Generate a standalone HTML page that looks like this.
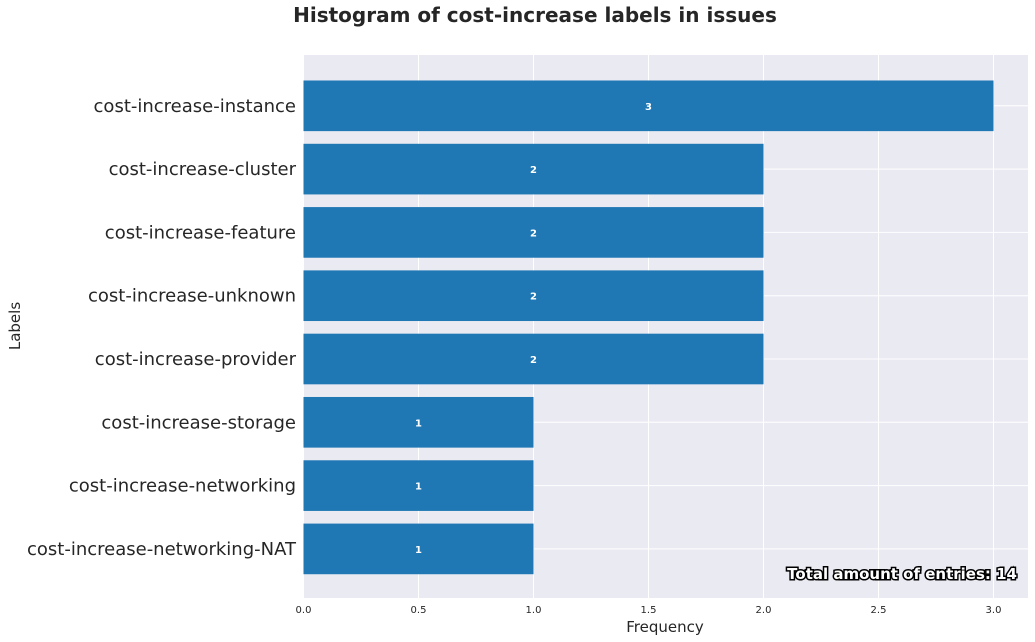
<!DOCTYPE html>
<html><head><meta charset="utf-8"><style>
body{margin:0;background:#fff;}
svg{display:block;font-family:"DejaVu Sans","Liberation Sans",sans-serif;}
</style></head><body>
<svg id="chart" width="1035" height="642">
<text x="535" y="22" text-anchor="middle" font-size="20" font-weight="bold" fill="#262626">Histogram of cost-increase labels in issues</text>
<rect x="304" y="55" width="724" height="543" fill="#eaeaf2"/>
<g id="grid"></g><g id="bars"></g><g id="xticks"></g><g id="yticks"></g>
<text x="665" y="632" text-anchor="middle" font-size="15" fill="#262626">Frequency</text>
<text x="20" y="326" text-anchor="middle" font-size="15" fill="#262626" transform="rotate(-90 20 326)">Labels</text>
<text x="1017" y="579" text-anchor="end" font-size="15" font-weight="bold" fill="#fff" stroke="#000" stroke-width="3" paint-order="stroke">Total amount of entries: 14</text>
</svg>
<script>
const categories=["cost-increase-instance","cost-increase-cluster","cost-increase-feature","cost-increase-unknown","cost-increase-provider","cost-increase-storage","cost-increase-networking","cost-increase-networking-NAT"];
const counts=[3,2,2,2,2,1,1,1];
const xTicks=[0,0.5,1,1.5,2,2.5,3];
const xTickLabels=["0.0","0.5","1.0","1.5","2.0","2.5","3.0"];
const NS="http://www.w3.org/2000/svg";
const x=v=>303.5+v*230;
const band=63.3;
const yc=i=>55.8+(0.79+i)*band;
function mk(t,a,p){const e=document.createElementNS(NS,t);for(const k in a)e.setAttribute(k,a[k]);document.getElementById(p).appendChild(e);return e;}
xTicks.forEach((t,i)=>{
 const g=mk("line",{x1:x(t),x2:x(t),y1:55,y2:598,stroke:"#fff","stroke-width":1},"grid");
 
 
 const l=mk("text",{x:x(t),y:613,"text-anchor":"middle","font-size":10,fill:"#262626"},"xticks");
 l.textContent=xTickLabels[i];
 
 
});
categories.forEach((c,i)=>{
 const g=mk("line",{x1:304,x2:1028,y1:yc(i),y2:yc(i),stroke:"#fff","stroke-width":1},"grid");
 
 
 const h=band*0.8;
 const b=mk("rect",{x:x(0),y:yc(i)-h/2,width:x(counts[i])-x(0),height:h,fill:"#1f77b4"},"bars");
 
 
 const v=mk("text",{x:(x(0)+x(counts[i]))/2,y:yc(i)+4,"text-anchor":"middle","font-size":10,"font-weight":"bold",fill:"#fff"},"bars");
 v.textContent=counts[i];
 
 
 const l=mk("text",{x:296,y:yc(i)+6,"text-anchor":"end","font-size":18,fill:"#262626"},"yticks");
 l.textContent=c;
 
 
});
</script>
</body></html>
